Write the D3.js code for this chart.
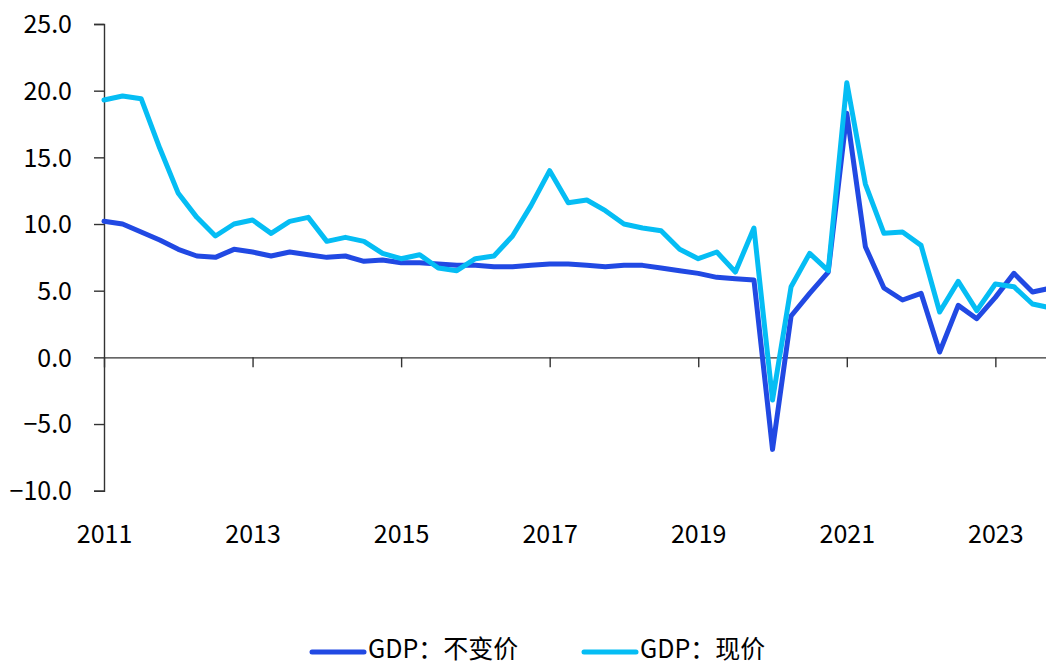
<html>
<head>
<title>GDP growth - real vs nominal</title>
<script type="text/javascript" src="https://cdn.jsdelivr.net/npm/d3@7/dist/d3.min.js"></script>
<style>
  body { margin: 0; background: #ffffff; }
  text { font-family: "Noto Sans CJK SC", "Noto Sans", sans-serif; fill: #000000; }
</style>
<script type="text/javascript">

// quarters from 2011Q1 to 2023Q4
var quarters = [
  "2011Q1","2011Q2","2011Q3","2011Q4","2012Q1","2012Q2","2012Q3","2012Q4",
  "2013Q1","2013Q2","2013Q3","2013Q4","2014Q1","2014Q2","2014Q3","2014Q4",
  "2015Q1","2015Q2","2015Q3","2015Q4","2016Q1","2016Q2","2016Q3","2016Q4",
  "2017Q1","2017Q2","2017Q3","2017Q4","2018Q1","2018Q2","2018Q3","2018Q4",
  "2019Q1","2019Q2","2019Q3","2019Q4","2020Q1","2020Q2","2020Q3","2020Q4",
  "2021Q1","2021Q2","2021Q3","2021Q4","2022Q1","2022Q2","2022Q3","2022Q4",
  "2023Q1","2023Q2","2023Q3","2023Q4"
];

// GDP: constant prices, yoy %
var realGdp = [
  10.2, 10.0, 9.4, 8.8,  8.1, 7.6, 7.5, 8.1,  7.9, 7.6, 7.9, 7.7,  7.5, 7.6, 7.2, 7.3,
  7.1, 7.1, 7.0, 6.9,    6.9, 6.8, 6.8, 6.9,  7.0, 7.0, 6.9, 6.8,  6.9, 6.9, 6.7, 6.5,
  6.3, 6.0, 5.9, 5.8,    -6.9, 3.1, 4.8, 6.4, 18.3, 8.3, 5.2, 4.3, 4.8, 0.4, 3.9, 2.9,
  4.5, 6.3, 4.9, 5.2
];

// GDP: current prices, yoy %
var nominalGdp = [
  19.3, 19.6, 19.4, 15.7, 12.3, 10.5, 9.1, 10.0, 10.3, 9.3, 10.2, 10.5, 8.7, 9.0, 8.7, 7.8,
  7.4, 7.7, 6.7, 6.5,    7.4, 7.6, 9.1, 11.4,  14.0, 11.6, 11.8, 11.0, 10.0, 9.7, 9.5, 8.1,
  7.4, 7.9, 6.4, 9.7,    -3.2, 5.3, 7.8, 6.5,  20.6, 13.0, 9.3, 9.4, 8.4, 3.4, 5.7, 3.5,
  5.5, 5.3, 4.0, 3.7
];

var yTicks = [-10, -5, 0, 5, 10, 15, 20, 25];
var xTickLabels = ["2011", "2013", "2015", "2017", "2019", "2021", "2023"];

var seriesNames = ["GDP：不变价", "GDP：现价"];
var seriesColors = ["#2149e3", "#05bdf4"];

window.onload = function() {
  var width = 1046, height = 662;
  var svg = d3.select("#chart").append("svg")
    .attr("width", width)
    .attr("height", height);

  svg.append("rect").attr("width", width).attr("height", height).attr("fill", "#ffffff");

  var x = d3.scaleLinear().domain([0, quarters.length - 1]).range([104, 104 + 51 * 18.57]);
  var y = d3.scaleLinear().domain([-10, 25]).range([490.7, 24]);

  var axisColor = "#333333";

  // y axis
  var yAxis = svg.append("g")
    .attr("transform", "translate(104,0)")
    .call(d3.axisLeft(y).tickValues(yTicks).tickSize(10).tickPadding(22)
      .tickFormat(function(d) { return d3.format(".1f")(d); }));
  yAxis.select(".domain").attr("stroke", axisColor).attr("stroke-width", 1.4);
  yAxis.selectAll(".tick line").attr("stroke", axisColor).attr("stroke-width", 1.4);
  yAxis.selectAll(".tick text")
    .attr("font-size", 25)
    .attr("fill", "#000000")
    .attr("dy", "0.35em")
    .style("font-family", "'Noto Sans CJK SC', sans-serif");

  // x axis along zero
  var xTickIdx = xTickLabels.map(function(l) { return quarters.indexOf(l + "Q1"); });
  var xAxis = svg.append("g")
    .attr("transform", "translate(0," + y(0) + ")")
    .call(d3.axisBottom(x).tickValues(xTickIdx).tickSize(10).tickSizeOuter(0)
      .tickFormat(function(d) { return quarters[d].substr(0, 4); }));
  xAxis.select(".domain").attr("stroke", axisColor).attr("stroke-width", 1.4);
  xAxis.selectAll(".tick line").attr("stroke", axisColor).attr("stroke-width", 1.4);
  xAxis.selectAll(".tick text")
    .attr("font-size", 25)
    .attr("fill", "#000000")
    .attr("y", null)
    .attr("dy", null)
    .attr("transform", "translate(0," + (543 - y(0)) + ")")
    .style("font-family", "'Noto Sans CJK SC', sans-serif");

  var line = d3.line()
    .x(function(d, i) { return x(i); })
    .y(function(d) { return y(d); });

  [realGdp, nominalGdp].forEach(function(series, k) {
    svg.append("path")
      .datum(series)
      .attr("fill", "none")
      .attr("stroke", seriesColors[k])
      .attr("stroke-width", 5)
      .attr("stroke-linejoin", "round")
      .attr("stroke-linecap", "round")
      .attr("d", line);
  });

  // legend
  var legendX = [312, 584];
  seriesNames.forEach(function(name, k) {
    var g = svg.append("g").attr("transform", "translate(" + legendX[k] + ",652)");
    g.append("line")
      .attr("x1", 0).attr("x2", 52)
      .attr("stroke", seriesColors[k])
      .attr("stroke-width", 5)
      .attr("stroke-linecap", "round");
    g.append("text")
      .attr("x", 56)
      .attr("y", 6)
      .attr("font-size", 25)
      .text(name);
  });
}

</script>
</head>
<body>
  <div id="chart"></div>
</body>
</html>
